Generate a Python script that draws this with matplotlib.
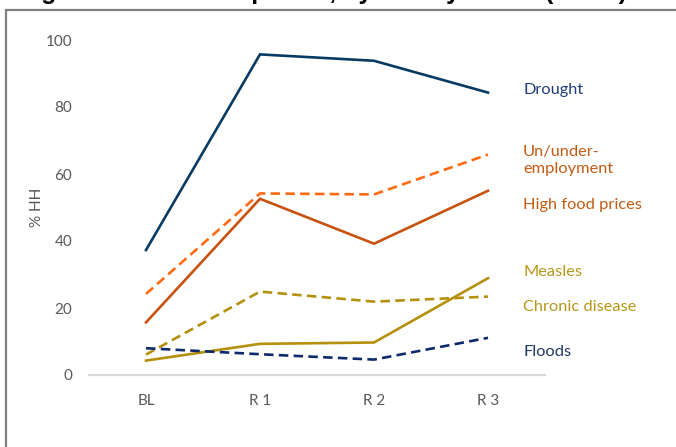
import matplotlib
matplotlib.use("Agg")
import matplotlib.pyplot as plt
from matplotlib.patches import Rectangle

# Survey rounds (x categories)
ROUNDS = ["BL", "R 1", "R 2", "R 3"]

# % of households reporting each shock
drought = [37.3, 95.7, 93.8, 84.3]
unemployment = [24.2, 54.2, 53.9, 65.8]
food_prices = [15.7, 52.6, 39.2, 55.0]
measles = [4.3, 9.3, 9.7, 28.9]
chronic_disease = [6.1, 24.9, 21.9, 23.4]
floods = [8.0, 6.2, 4.6, 11.1]

LABELS = ["Drought", "Un/under-\nemployment", "High food prices",
          "Measles", "Chronic disease", "Floods"]

TITLE = "Figure 3: Shocks reported, by survey round (% HH)"

GOLD = "#B5900D"
# (values, line colour, linestyle, label colour, label y in axes fraction)
SERIES = [
    (drought, "#083B63", "-", "#1F3C78", 0.850),
    (unemployment, "#FF6A13", "--", "#C55A11", 0.640),
    (food_prices, "#C8520F", "-", "#C55A11", 0.507),
    (measles, GOLD, "-", "#B8961A", 0.307),
    (chronic_disease, GOLD, "--", "#B8961A", 0.203),
    (floods, "#0E2A6B", "--", "#1F3864", 0.070),
]

FONT = "Lato"
TICK_COLOR = "#595959"

W, H = 676, 447
fig = plt.figure(figsize=(W / 100, H / 100), dpi=100)

# outer frame (cut off at right and bottom in the original)
fig.add_artist(Rectangle((6 / W, -0.1), 1.2, (H - 10) / H + 0.1,
                         transform=fig.transFigure, fill=False,
                         edgecolor="#808080", linewidth=1.6))

# title sits above the crop, only its descenders show
fig.text(19 / W, 1.0 + 0.5 / H, TITLE, fontsize=18, fontweight="bold",
         family="Liberation Sans", color="black", ha="left", va="baseline")

ax = fig.add_axes([89 / W, (H - 375) / H, 456 / W, 335 / H])

for (vals, col, ls, _lc, _ly) in SERIES:
    if ls == "--":
        ax.plot(ROUNDS, vals, color=col, linewidth=1.9, linestyle=(0, (3.6, 2.0)),
                dash_capstyle="butt")
    else:
        ax.plot(ROUNDS, vals, color=col, linewidth=1.9, solid_joinstyle="miter")

for lbl, (_v, _c, _ls, lc, ly) in zip(LABELS, SERIES):
    ax.text(0.952, ly, lbl, transform=ax.transAxes, fontsize=11.8, family=FONT,
            color=lc, ha="left", va="center", linespacing=1.3)

ax.set_xlim(-0.5, 3.5)
ax.set_ylim(0, 100)
ax.set_yticks([0, 20, 40, 60, 80, 100])

for s in ["left", "top", "right"]:
    ax.spines[s].set_visible(False)
ax.spines["bottom"].set_color("#D9D9D9")
ax.spines["bottom"].set_linewidth(1.6)

ax.tick_params(axis="both", length=0, labelsize=11, labelcolor=TICK_COLOR)
ax.tick_params(axis="y", pad=12)
ax.tick_params(axis="x", pad=14)
for t in ax.get_xticklabels() + ax.get_yticklabels():
    t.set_family(FONT)

ax.set_ylabel("% HH", fontsize=11, color=TICK_COLOR, family=FONT)
ax.yaxis.set_label_coords(-0.098, 0.5)

fig.savefig("out.png", dpi=100)
